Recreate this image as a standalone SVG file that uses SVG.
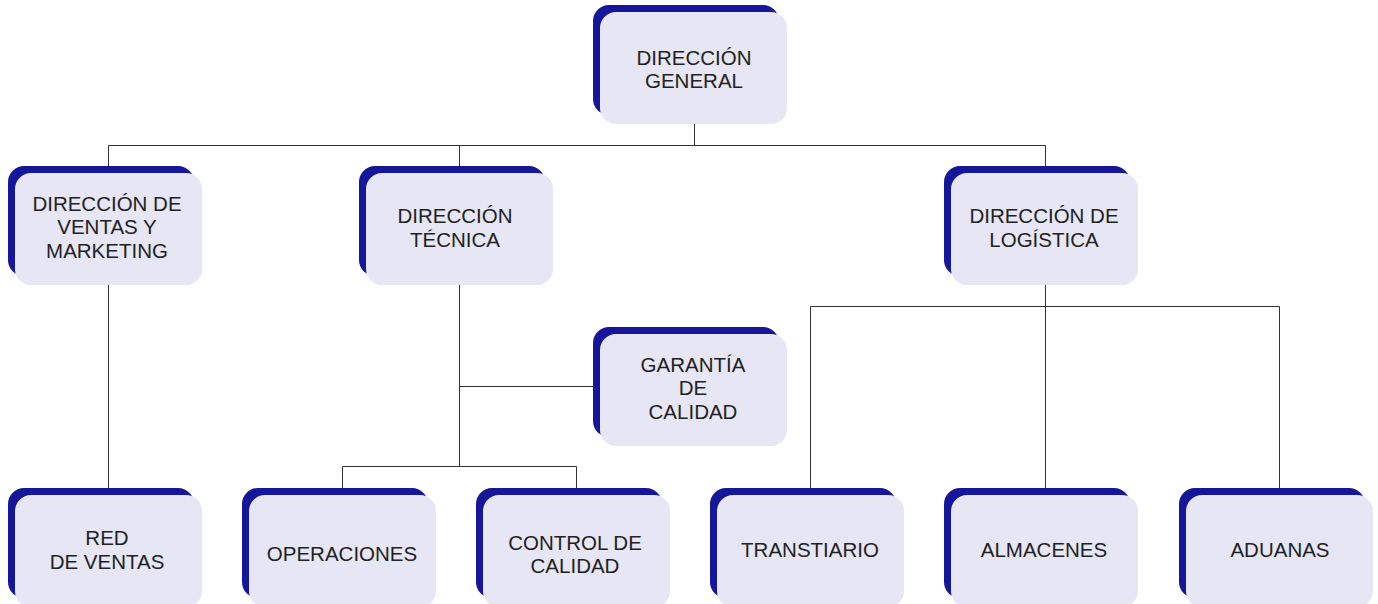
<svg xmlns="http://www.w3.org/2000/svg" width="1378" height="604" viewBox="0 0 1378 604">
<defs>
<style>
.back{fill:#16169a}
.front{fill:#e6e6f4}
.t{font-family:"Liberation Sans",Arial,sans-serif;font-size:20.5px;fill:#222;text-anchor:middle}
.c{stroke:#333;stroke-width:1;fill:none}
</style>
<g id="shape">
<rect class="back" x="0" y="0" width="186" height="110" rx="16"/>
<rect class="front" x="7" y="7" width="187" height="112" rx="16"/>
</g>
</defs>
<rect width="1378" height="604" fill="#fff"/>
<g id="connectors">
<path class="c" d="M694.5 124V145.5M108.5 145.5H1045.5M108.5 145.5V166M459.5 145.5V166M1045.5 145.5V166"/>
<path class="c" d="M108.5 285V488"/>
<path class="c" d="M459.5 285V466.5M459.5 386.5H601M342.5 466.5H576.5M342.5 466.5V488M576.5 466.5V488"/>
<path class="c" d="M1045.5 285V488M810.5 306.5H1279.5M810.5 306.5V488M1279.5 306.5V488"/>
</g>
<g id="n-general"><use href="#shape" x="593" y="5"/><text class="t" x="694" y="65">DIRECCIÓN</text><text class="t" x="694" y="88">GENERAL</text></g>
<g id="n-ventas"><use href="#shape" x="8" y="166"/><text class="t" x="107" y="211">DIRECCIÓN DE</text><text class="t" x="107" y="234">VENTAS Y</text><text class="t" x="107" y="258">MARKETING</text></g>
<g id="n-tecnica"><use href="#shape" x="359" y="166"/><text class="t" x="455" y="223">DIRECCIÓN</text><text class="t" x="455" y="247">TÉCNICA</text></g>
<g id="n-logistica"><use href="#shape" x="944" y="166"/><text class="t" x="1044" y="223">DIRECCIÓN DE</text><text class="t" x="1044" y="247">LOGÍSTICA</text></g>
<g id="n-garantia"><use href="#shape" x="593" y="327"/><text class="t" x="693" y="372">GARANTÍA</text><text class="t" x="693" y="395">DE</text><text class="t" x="693" y="419">CALIDAD</text></g>
<g id="n-red"><use href="#shape" x="8" y="488"/><text class="t" x="107" y="545">RED</text><text class="t" x="107" y="569">DE VENTAS</text></g>
<g id="n-operaciones"><use href="#shape" x="242" y="488"/><text class="t" x="342" y="561">OPERACIONES</text></g>
<g id="n-control"><use href="#shape" x="476" y="488"/><text class="t" x="575" y="550">CONTROL DE</text><text class="t" x="575" y="573">CALIDAD</text></g>
<g id="n-transtiario"><use href="#shape" x="710" y="488"/><text class="t" x="810" y="557">TRANSTIARIO</text></g>
<g id="n-almacenes"><use href="#shape" x="944" y="488"/><text class="t" x="1044" y="557">ALMACENES</text></g>
<g id="n-aduanas"><use href="#shape" x="1179" y="488"/><text class="t" x="1280" y="557">ADUANAS</text></g>
</svg>
